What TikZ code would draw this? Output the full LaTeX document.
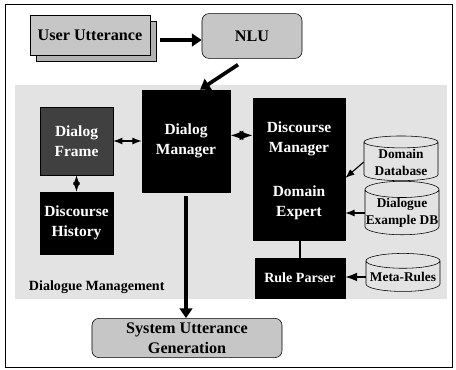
\documentclass[tikz,border=0pt]{standalone}
\usepackage{fontspec}
\setmainfont{Liberation Serif}
\usetikzlibrary{positioning}
\usetikzlibrary{shapes.geometric}
\usetikzlibrary{arrows.meta}
\tikzset{>=Latex}
\tikzset{blk/.style={draw=black,fill=black,text=white,font=\fontsize{11}{14}\selectfont\bfseries,align=center,inner sep=0pt}}
\tikzset{grybox/.style={draw=black,fill=gray!45,rounded corners=5pt,font=\fontsize{11.5}{14}\selectfont\bfseries,align=center,inner sep=0pt}}
\tikzset{db/.style={draw=black,fill=gray!22,cylinder,shape border rotate=90,aspect=0.22,font=\fontsize{9.5}{12}\selectfont\bfseries,align=center,inner sep=0.5pt}}
\tikzset{thk/.style={line width=2.6pt,-{Triangle[length=7pt,width=9pt]}}}
\tikzset{lnk/.style={line width=0.8pt}}

\begin{document}
\begin{tikzpicture}[x=0.025cm,y=-0.025cm]
\useasboundingbox (0,0) rectangle (456,370);
\draw[line width=0.6pt] (5,4) rectangle (452,367);

% dialogue management area
\fill[gray!22] (15,85) rectangle (447,299);
\node[font=\fontsize{10}{12}\selectfont\bfseries,anchor=west] (dmlabel) at (24,287) {Dialogue Management};

% input side
\fill[gray!60,draw=black] (36,21) rectangle (156,61);
\node[grybox,rounded corners=0pt,minimum width=3cm,minimum height=1cm] (user) at (90,35) {User Utterance};
\node[grybox,minimum width=2.5cm,minimum height=1.12cm] (nlu) at (252,36) {NLU};

% boxes
\node[blk,minimum width=2.2cm,minimum height=2.55cm] (dmgr) at (186,141) {Dialog\\Manager};
\node[blk,fill=black!75,minimum width=1.82cm,minimum height=1.7cm] (frame) at (76.5,141) {Dialog\\Frame};
\node[blk,minimum width=1.82cm,minimum height=1.55cm] (hist) at (76.5,223) {Discourse\\History};
\node[blk,minimum width=2.3cm,minimum height=3.55cm] (dcm) at (299,169) {};
\node[blk,anchor=center] (dcmtxt) at (299,139) {Discourse\\Manager};
\node[blk,anchor=center] (expert) at (299,203) {Domain\\Expert};
\node[blk,font=\fontsize{10}{12}\selectfont\bfseries,minimum width=2.25cm,minimum height=1cm] (rule) at (300,278) {Rule Parser};

% databases
\node[db,minimum width=1.85cm,minimum height=1.05cm] (domdb) at (401,162) {Domain\\Database};
\node[db,minimum width=1.85cm,minimum height=1.15cm] (exdb) at (402,213) {Dialogue\\Example DB};
\node[db,minimum width=1.85cm,minimum height=0.95cm] (meta) at (403,277) {Meta-Rules};

% output
\node[grybox,minimum width=4.75cm,minimum height=0.98cm] (gen) at (187,338) {System Utterance\\Generation};

% connectors
\draw[thk] (user.east) ++(10,5) coordinate (ua) -- (ua -| nlu.west);
\draw[thk] (nlu.south) ++(-14,6) coordinate (na) -- ([xshift=10pt]dmgr.north);
\draw[thk] (dmgr.south) ++(0,4) coordinate (ma) -- (ma |- gen.north);
\draw[lnk,<->] (frame.east) -- (frame.east -| dmgr.west);
\draw[lnk,<->] (frame.south) -- (hist.north);
\draw[line width=1.4pt,<->] ([yshift=4pt]dmgr.east) -- ([yshift=4pt]dmgr.east -| dcm.west);
\draw[lnk,->] (domdb.west) -- ([yshift=-0.4cm]domdb.west -| dcm.east);
\draw[lnk,->] (exdb.west) -- (exdb.west -| dcm.east);
\draw[lnk] (rule.north) -- (rule.north |- dcm.south);
\draw[line width=1.2pt,->] (meta.west) -- (meta.west -| rule.east);
\end{tikzpicture}
\end{document}
